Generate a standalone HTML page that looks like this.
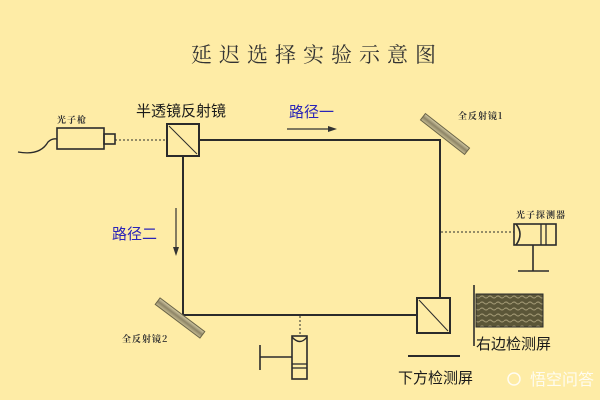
<!DOCTYPE html>
<html><head><meta charset="utf-8"><style>
html,body{margin:0;padding:0;background:#feeca6;}
svg{display:block}
</style></head><body>
<svg width="600" height="400" viewBox="0 0 600 400" xmlns="http://www.w3.org/2000/svg">
<defs>
<linearGradient id="mg" x1="0" y1="0" x2="0" y2="1">
<stop offset="0" stop-color="#d8cfa8"/><stop offset="0.5" stop-color="#8d8466"/><stop offset="1" stop-color="#c9bf94"/>
</linearGradient>
<pattern id="wav" width="8" height="6" patternUnits="userSpaceOnUse">
<rect width="8" height="6" fill="#5b5638"/><path d="M0 3 Q2 1 4 3 T8 3" stroke="#9d9470" stroke-width="1.2" fill="none"/>
</pattern>
</defs>
<rect width="600" height="400" fill="#feeca6"/>
<text x="317" y="62" text-anchor="middle" font-family="Noto Serif CJK SC, serif" font-size="21" letter-spacing="7" fill="#333">延迟选择实验示意图</text>
<g stroke="#2b2b2b" stroke-width="2" fill="none">
<polyline points="199,140 440,140 440,298"/>
<polyline points="183,156 183,315 416,315"/>
<rect x="167" y="124" width="32" height="32"/>
<line x1="169" y1="126" x2="197" y2="154" stroke-width="1"/>
<rect x="417" y="298" width="33" height="35"/>
<line x1="419" y1="300" x2="448" y2="331" stroke-width="1"/>
<rect x="57" y="128" width="47" height="21" stroke-width="1.6"/>
<rect x="104" y="134" width="11" height="10" stroke-width="1.6"/>
<path d="M18 152 Q40 156 48 142 Q52 138 57 139" stroke-width="1.3"/>
<rect x="514" y="224" width="42" height="21" stroke-width="1.6"/>
<path d="M516 224 Q524 234 516 245" stroke-width="1.6"/>
<line x1="541" y1="224" x2="541" y2="245" stroke-width="1.3"/>
<line x1="546" y1="224" x2="546" y2="245" stroke-width="1.3"/>
<line x1="533" y1="245" x2="533" y2="271" stroke-width="1.6"/>
<line x1="518" y1="271" x2="549" y2="271" stroke-width="1.6"/>
<rect x="292" y="336" width="15" height="43" stroke-width="1.6"/>
<path d="M292 337 Q300 346 307 337" stroke-width="1.4"/>
<line x1="292" y1="364" x2="307" y2="364" stroke-width="1.3"/>
<line x1="292" y1="368" x2="307" y2="368" stroke-width="1.3"/>
<line x1="260" y1="357" x2="292" y2="357" stroke-width="1.6"/>
<line x1="260" y1="345" x2="260" y2="370" stroke-width="1.6"/>
<line x1="474" y1="285" x2="474" y2="346" stroke-width="1.6"/>
<line x1="408" y1="356" x2="460" y2="356" stroke-width="2"/>
</g>
<rect x="476" y="294" width="67" height="33" fill="url(#wav)" stroke="#2b2b2b" stroke-width="1"/>
<g stroke="#2b2b2b" stroke-width="1" stroke-dasharray="2,2">
<line x1="115" y1="140" x2="167" y2="140"/>
<line x1="441" y1="232" x2="514" y2="232"/>
<line x1="300" y1="316" x2="300" y2="335"/>
</g>
<rect x="-28" y="-4" width="56" height="8" fill="url(#mg)" stroke="#6a6448" stroke-width="1" transform="translate(445,134) rotate(38)"/>
<rect x="-28" y="-4" width="56" height="8" fill="url(#mg)" stroke="#6a6448" stroke-width="1" transform="translate(180,318) rotate(37)"/>
<g stroke="#333" stroke-width="1.2">
<line x1="287" y1="129" x2="332" y2="129"/>
<line x1="176" y1="208" x2="176" y2="252"/>
</g>
<polygon points="337,129 328,126 328,132" fill="#333"/>
<polygon points="176,256 173,247 179,247" fill="#333"/>
<g font-family="Liberation Sans, Noto Sans CJK SC, sans-serif" font-size="15" fill="#1a1a1a">
<text x="136" y="116">半透镜反射镜</text>
<text x="476" y="349">右边检测屏</text>
<text x="398" y="383">下方检测屏</text>
</g>
<g font-family="Liberation Sans, Noto Sans CJK SC, sans-serif" font-size="15" fill="#2a24b8">
<text x="289" y="117">路径一</text>
<text x="112" y="239">路径二</text>
</g>
<g font-family="Noto Serif CJK SC, serif" font-size="9" font-weight="bold" fill="#333" letter-spacing="1">
<text x="57" y="123">光子枪</text>
<text x="458" y="119">全反射镜1</text>
<text x="516" y="218">光子探测器</text>
<text x="122" y="342">全反射镜2</text>
</g>
<text x="530" y="385" font-family="Liberation Sans, Noto Sans CJK SC, sans-serif" font-size="16" fill="#ffffff" opacity="0.85">悟空问答</text>
<circle cx="514" cy="379" r="6" fill="none" stroke="#fff" stroke-width="1.5" opacity="0.85"/>
</svg>
</body></html>
